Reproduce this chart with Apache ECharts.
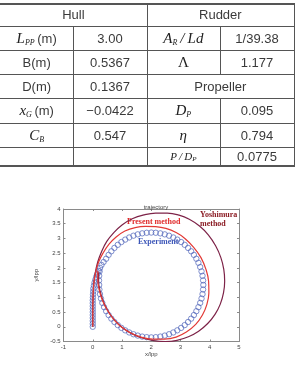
<!DOCTYPE html>
<html><head><meta charset="utf-8">
<script src="https://cdn.jsdelivr.net/npm/echarts@6/dist/echarts.min.js"></script>
<style>
html,body{margin:0;padding:0;background:#fff;}
#chart{position:absolute;left:0;top:0;width:295px;height:365px;}
#tbl{position:absolute;left:0;top:0;width:295px;height:170px;}
.ln{position:absolute;background:#555;}
.cell{position:absolute;display:flex;align-items:center;justify-content:center;font-family:'Liberation Sans',Arial,sans-serif;font-size:13px;color:#3a3a3a;white-space:nowrap;}
.m{font-family:'Liberation Serif','Times New Roman',serif;font-style:italic;font-size:15px;color:#222;}
.s{font-family:'Liberation Serif','Times New Roman',serif;font-style:italic;font-size:8px;position:relative;top:4px;color:#222;}
.u{font-family:'Liberation Serif','Times New Roman',serif;font-size:15px;color:#222;}
.sm{font-family:'Liberation Serif','Times New Roman',serif;font-style:italic;font-size:11px;color:#222;}
.sms{font-family:'Liberation Serif','Times New Roman',serif;font-style:italic;font-size:7px;position:relative;top:3px;color:#222;}
</style>
</head><body>
<div id="chart"></div>
<div id="tbl"></div>
<script>
// ---- table content ----
const tableHeaders = ['Hull', 'Rudder'];
const hullNames = ['<span class="m">L</span><span class="s">PP</span>&thinsp;(m)', 'B(m)', 'D(m)', '<span class="m">x</span><span class="s">G</span>&thinsp;(m)', '<span class="m">C</span><span class="s">B</span>', ''];
const hullValues = ['3.00', '0.5367', '0.1367', '\u22120.0422', '0.547', ''];
const rudderNames = ['<span class="m">A</span><span class="s">R</span><span class="m">&thinsp;/&thinsp;Ld</span>', '<span class="u">\u039B</span>'];
const rudderValues = ['1/39.38', '1.177'];
const propellerTitle = 'Propeller';
const propellerNames = ['<span class="m">D</span><span class="s">P</span>', '<span class="m">\u03B7</span>', '<span class="sm">P&thinsp;/&thinsp;D</span><span class="sms">P</span>'];
const propellerValues = ['0.095', '0.794', '0.0775'];

// ---- chart data (x/lpp, y/lpp) ----
const experiment = [
 [0,0],[0,0.1],[0,0.2],[0,0.3],[0,0.4],[0,0.5],[0,0.6],[0,0.7],[0,0.8],[0,0.9],[0.005,1.0],[0.01,1.1],[0.015,1.2],
 [0.02,1.3],[0.04,1.4],[0.06,1.5],[0.09,1.6],[0.12,1.7],[0.16,1.8],[0.2,1.9],[0.25,2.0],[0.3,2.1],[0.37,2.2],
 [0.458,2.31],[0.542,2.442],[0.636,2.564],[0.741,2.678],[0.856,2.783],[0.979,2.878],[1.11,2.961],[1.247,3.033],
 [1.391,3.093],[1.539,3.139],[1.69,3.173],[1.845,3.193],[2.0,3.2],[2.155,3.193],[2.31,3.173],[2.461,3.139],
 [2.609,3.093],[2.753,3.033],[2.89,2.961],[3.021,2.878],[3.144,2.783],[3.259,2.678],[3.364,2.564],[3.458,2.442],
 [3.542,2.31],[3.613,2.173],[3.673,2.029],[3.719,1.881],[3.753,1.73],[3.773,1.575],[3.78,1.42],[3.773,1.265],
 [3.753,1.11],[3.719,0.959],[3.673,0.811],[3.613,0.667],[3.542,0.53],[3.458,0.398],[3.364,0.276],[3.259,0.162],
 [3.144,0.057],[3.021,-0.038],[2.89,-0.121],[2.753,-0.193],[2.609,-0.253],[2.461,-0.299],[2.31,-0.333],[2.155,-0.353],
 [2.0,-0.36],[1.845,-0.353],[1.69,-0.333],[1.539,-0.299],[1.391,-0.253],[1.247,-0.193],[1.11,-0.121],[0.979,-0.038],
 [0.856,0.057],[0.741,0.162],[0.636,0.276],[0.542,0.398],[0.458,0.53],[0.387,0.667],[0.327,0.811],[0.281,0.959],
 [0.247,1.11],[0.227,1.265],[0.22,1.42],[0.215,1.575],[0.22,1.73],[0.235,1.881]
];
const presentMethod = [
 [0,0],[0,0.5],[0.01,1.0],[0.04,1.5],[0.1,1.85],[0.2,2.2],[0.35,2.5],[0.55,2.8],[0.8,3.05],[1.1,3.25],
 [1.45,3.37],[1.8,3.41],[2.15,3.40],[2.5,3.34],[2.85,3.2],[3.15,3.0],[3.45,2.7],[3.7,2.35],[3.87,1.95],
 [3.96,1.55],[3.97,1.15],[3.9,0.75],[3.75,0.4],[3.52,0.08],[3.2,-0.18],[2.85,-0.35],[2.45,-0.42],[2.05,-0.42],
 [1.65,-0.35],[1.3,-0.21],[0.98,-0.01],[0.72,0.25],[0.5,0.56],[0.33,0.9],[0.22,1.25],[0.17,1.6],[0.17,1.9]
];
const yoshimuraMethod = [
 [0,0],[0,0.5],[0.01,1.0],[0.03,1.4],[0.08,1.8],[0.17,2.2],[0.3,2.55],[0.48,2.9],[0.72,3.2],[1.0,3.46],
 [1.35,3.67],[1.75,3.8],[2.15,3.86],[2.55,3.86],[2.95,3.79],[3.3,3.65],[3.65,3.42],[3.95,3.12],[4.2,2.75],
 [4.38,2.35],[4.48,1.95],[4.51,1.55],[4.47,1.15],[4.36,0.77],[4.18,0.42],[3.93,0.11],[3.62,-0.15],[3.27,-0.34],
 [2.88,-0.46],[2.48,-0.5],[2.08,-0.47],[1.7,-0.38],[1.35,-0.24],[1.03,-0.04],[0.75,0.22],[0.53,0.52],
 [0.36,0.86],[0.25,1.22],[0.2,1.55],[0.2,1.85]
];
const seriesNames = ['Experiment', 'Present method', 'Yoshimura method'];
const xRange = [-1, 5], xStep = 1;
const yRange = [-0.5, 4], yStep = 0.5;

// ---- build table ----
(function(){
  const t = document.getElementById('tbl');
  const X = [0, 73.3, 146.7, 220, 294];
  const Y = [3, 26, 50, 74, 98, 123, 147, 165];
  function ln(x, y, w, h){ const d=document.createElement('div'); d.className='ln'; d.style.left=x+'px'; d.style.top=y+'px'; d.style.width=w+'px'; d.style.height=h+'px'; t.appendChild(d); }
  function cell(c0, c1, r, html){ const d=document.createElement('div'); d.className='cell'; d.style.left=X[c0]+'px'; d.style.width=(X[c1]-X[c0])+'px'; d.style.top=Y[r]+'px'; d.style.height=(Y[r+1]-Y[r])+'px'; d.innerHTML=html; t.appendChild(d); }
  Y.forEach((y,i)=>ln(0, y, 295, (i===0||i===Y.length-1)?1.5:1));
  ln(X[1], Y[1], 1, Y[7]-Y[1]);
  ln(X[2], Y[0], 1, Y[7]-Y[0]);
  ln(X[3], Y[1], 1, Y[3]-Y[1]);
  ln(X[3], Y[4], 1, Y[7]-Y[4]);
  ln(X[4], Y[0], 1, Y[7]-Y[0]);
  cell(0,2,0,tableHeaders[0]); cell(2,4,0,tableHeaders[1]);
  for(let i=0;i<hullNames.length;i++){ cell(0,1,i+1,hullNames[i]); cell(1,2,i+1,hullValues[i]); }
  for(let i=0;i<rudderNames.length;i++){ cell(2,3,i+1,rudderNames[i]); cell(3,4,i+1,rudderValues[i]); }
  cell(2,4,3,propellerTitle);
  for(let i=0;i<propellerNames.length;i++){ cell(2,3,i+4,propellerNames[i]); cell(3,4,i+4,propellerValues[i]); }
})();

// ---- chart ----
const chart = echarts.init(document.getElementById('chart'), null, {renderer:'canvas'});
const axCol = '#8a8a8a';
function mkAxis(range, step, pos, show, name, nameGap, rotate){
  return {
    type:'value', min:range[0], max:range[1], interval:step, position:pos,
    axisLine:{show:true, onZero:false, lineStyle:{color:axCol, width:1}},
    axisTick:{show:true, inside:true, length:2, lineStyle:{color:axCol}},
    axisLabel:{show:show, fontSize:6, color:'#444', margin:3, fontFamily:'Liberation Sans'},
    splitLine:{show:false},
    name: show ? name : '', nameLocation:'middle', nameGap:nameGap, nameRotate:rotate,
    nameTextStyle:{fontSize:6, color:'#444', fontFamily:'Liberation Sans'}
  };
}
chart.setOption({
  animation:false,
  title:{text:'trajectory', left:151, top:199, textAlign:'center', textStyle:{fontSize:6, fontWeight:'normal', color:'#444', fontFamily:'Liberation Sans'}},
  grid:{left:63.5, top:209, width:175.5, height:132.5},
  xAxis:[mkAxis(xRange, xStep, 'bottom', true, 'x/lpp', 9, 0), mkAxis(xRange, xStep, 'top', false, '', 0, 0)],
  yAxis:[mkAxis(yRange, yStep, 'left', true, 'y/lpp', 14, 90), mkAxis(yRange, yStep, 'right', false, '', 0, 0)],
  series:[
    {name:seriesNames[2], type:'line', data:yoshimuraMethod, smooth:0.4, showSymbol:false, lineStyle:{color:'#7d2348', width:1.2}, silent:true},
    {name:seriesNames[1], type:'line', data:presentMethod, smooth:0.4, showSymbol:false, lineStyle:{color:'#e23a36', width:1.2}, silent:true},
    {name:seriesNames[0], type:'scatter', data:experiment, symbol:'circle', symbolSize:5.4, itemStyle:{color:'rgba(255,255,255,0)', borderColor:'#5064ba', borderWidth:0.9}, silent:true}
  ],
  graphic:[
    {type:'text', left:127, top:218, style:{text:'Present method', fontSize:8, fontWeight:'bold', fontFamily:'Liberation Serif', fill:'#e02a2a'}},
    {type:'text', left:138, top:238, style:{text:'Experiment', fontSize:8, fontWeight:'bold', fontFamily:'Liberation Serif', fill:'#3c56b8'}},
    {type:'text', left:200, top:210, style:{text:'Yoshimura\nmethod', fontSize:8, fontWeight:'bold', fontFamily:'Liberation Serif', fill:'#8b1c24', align:'center', lineHeight:9}}
  ]
});
</script>
</body></html>
